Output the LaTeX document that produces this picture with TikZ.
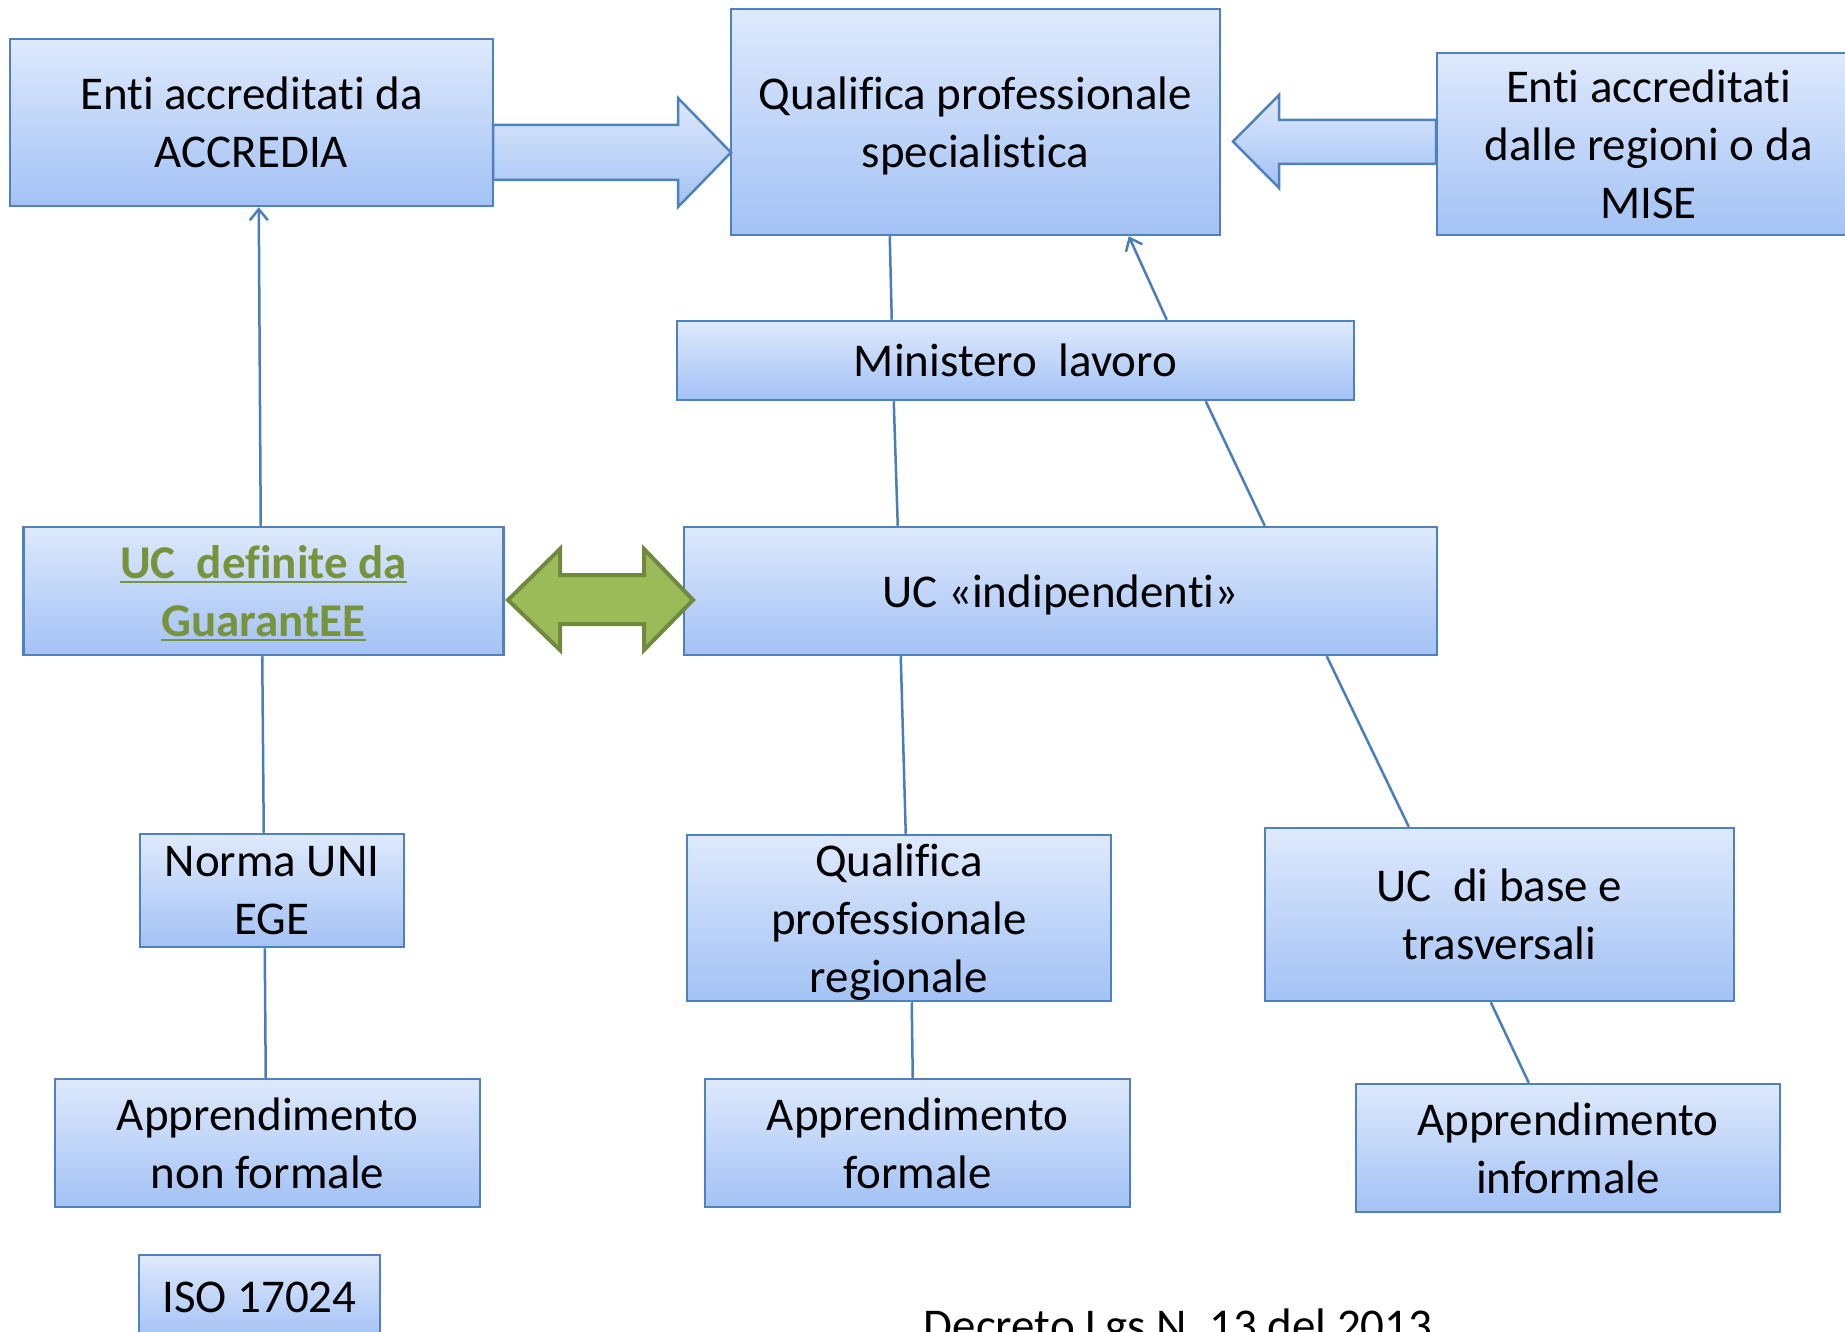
\documentclass[tikz,border=0pt]{standalone}
\usepackage{fontspec}
\setmainfont{Carlito}[Ligatures={NoCommon,NoContextual},Contextuals=NoAlternate]
\usetikzlibrary{arrows.meta}
\definecolor{bordblue}{RGB}{79,129,189}
\definecolor{lineblue}{RGB}{74,126,187}
\definecolor{gtop}{RGB}{222,233,252}
\definecolor{gbot}{RGB}{163,194,245}
\definecolor{ogreen}{RGB}{155,187,89}
\definecolor{ogreendk}{RGB}{113,137,63}
\definecolor{ulgreen}{RGB}{119,147,60}
\newcommand\myul[1]{\raisebox{0pt}[\height][0pt]{\setbox0\hbox{#1}\rlap{\rule[-5pt]{\wd0}{2.8pt}}\box0}}
\newcommand\nodp[1]{\raisebox{0pt}[\height][0pt]{#1}}
\newcommand\nti{t\kern0pt i}
\tikzset{
  box/.style={draw=bordblue, line width=2.5pt, top color=gtop, bottom color=gbot,
    inner sep=0pt, align=center, font=\fontsize{47}{58}\selectfont},
  conn/.style={draw=lineblue, line width=2.5pt},
  arr/.style={conn, -{Straight Barb[length=11pt,width=18pt,line width=2.5pt]}},
  blockarrow/.style={draw=bordblue, line width=2.5pt, top color=gtop, bottom color=gbot, line join=miter},
  greenarrow/.style={draw=ogreendk, line width=4pt, fill=ogreen, line join=miter}
}
\begin{document}
\begin{tikzpicture}[x=1pt,y=-1pt]
\useasboundingbox (0,0) rectangle (1845,1332);
\clip (0,0) rectangle (1845,1332);
\fill[white] (0,0) rectangle (1845,1332);

% boxes
\node[box, minimum width=483pt, minimum height=167pt] (acc) at (251.5,122.5) {En\nti{} accredita\nti{} da\\ACCREDIA};
\node[box, minimum width=489pt, minimum height=226pt] (qps) at (975.5,122) {Qualifica professionale\\\nodp{specialis\nti ca}};
\node[box, minimum width=423pt, minimum height=182pt] (reg) at (1648.5,144) {En\nti{} accredita\nti\\dalle regioni o da\\MISE};
\node[box, minimum width=677pt, minimum height=79pt] (min) at (1015.5,360.5) {Ministero\ \ lavoro};
\node[box, minimum width=480pt, minimum height=128pt] (ucg) at (263.5,591) {\color{ulgreen}\bfseries\myul{UC\ \ definite da}\\\color{ulgreen}\bfseries\myul{GuarantEE}};
\node[box, minimum width=753pt, minimum height=128pt] (uci) at (1060.5,591) {\nodp{UC «indipenden\nti»}};
\node[box, minimum width=264pt, minimum height=113pt] (uni) at (272,890.5) {Norma UNI\\EGE};
\node[box, minimum width=424pt, minimum height=166pt] (qpr) at (899,918) {Qualifica\\professionale\\\nodp{regionale}};
\node[box, minimum width=469pt, minimum height=173pt] (ucb) at (1499.5,914.5) {UC\ \ di base e\\trasversali};
\node[box, minimum width=425pt, minimum height=128pt] (anf) at (267.5,1143) {Apprendimento\\non formale};
\node[box, minimum width=425pt, minimum height=128pt] (af) at (917.5,1143) {Apprendimento\\formale};
\node[box, minimum width=424pt, minimum height=128pt] (ai) at (1568,1148) {Apprendimento\\informale};
\node[box, minimum width=241pt, minimum height=84pt] (iso) at (259.5,1297) {ISO 17024};
\node[anchor=base, inner sep=0pt, font=\fontsize{47}{58}\selectfont] (dec) at (1178,1341) {Decreto Lgs N. 13 del 2013};

% connectors
\draw[arr] ([xshift=238.5pt]ucg.north west) -- ([xshift=250pt]acc.south west);
\draw[conn] ([xshift=160pt]qps.south west) -- ([xshift=216pt]min.north west);
\draw[conn] ([xshift=218pt]min.south west) -- ([xshift=215pt]uci.north west);
\draw[arr] ([xshift=491pt]min.north west) -- ([xshift=399pt]qps.south west);
\draw[conn] ([xshift=582pt]uci.north west) -- ([xshift=530pt]min.south west);
\draw[conn] ([xshift=218pt]uci.south west) -- ([xshift=220pt]qpr.north west);
\draw[conn] ([xshift=644pt]uci.south west) -- ([xshift=145pt]ucb.north west);
\draw[conn] ([xshift=240pt]ucg.south west) -- ([xshift=125pt]uni.north west);
\draw[conn] ([xshift=126pt]uni.south west) -- ([xshift=212pt]anf.north west);
\draw[conn] ([xshift=226pt]qpr.south west) -- ([xshift=209pt]af.north west);
\draw[conn] ([xshift=227pt]ucb.south west) -- ([xshift=174pt]ai.north west);

% block arrows
\path[blockarrow] (493,125) -- (678,125) -- (678,98) -- (731,152.5) -- (678,207) -- (678,180) -- (493,180) -- cycle;
\path[blockarrow] (1436,120) -- (1279,120) -- (1279,95) -- (1233,141.5) -- (1279,188) -- (1279,164) -- (1436,164) -- cycle;
\path[greenarrow] (508,600) -- (560,549) -- (560,575) -- (644,575) -- (644,549) -- (693,600) -- (644,650) -- (644,624) -- (560,624) -- (560,650) -- cycle;
\end{tikzpicture}
\end{document}
